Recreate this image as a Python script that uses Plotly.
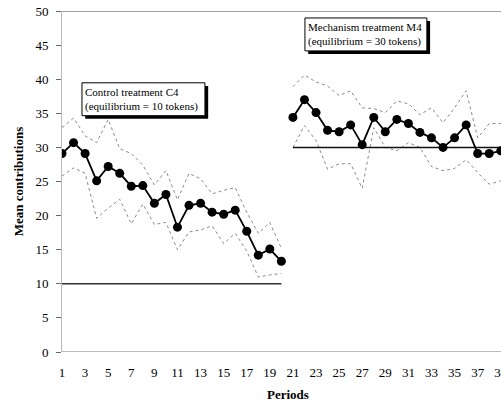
import plotly.graph_objects as go

# ---- data ----
periods_c = list(range(1, 21))
mean_c = [29.1, 30.7, 29.1, 25.1, 27.2, 26.2, 24.3, 24.4, 21.8, 23.1,
          18.3, 21.5, 21.8, 20.5, 20.2, 20.8, 17.7, 14.2, 15.1, 13.3]
upper_c = [32.9, 34.3, 31.7, 30.7, 34.1, 29.8, 29.1, 27.4, 24.5, 26.6,
           22.3, 26.2, 25.4, 23.2, 23.7, 24.1, 20.5, 17.4, 19.0, 15.2]
lower_c = [25.8, 27.0, 26.2, 19.6, 21.1, 22.4, 18.8, 21.7, 18.7, 19.0,
           15.0, 17.6, 17.9, 18.5, 15.9, 17.4, 14.8, 11.0, 11.3, 11.5]

periods_m = list(range(21, 40))
mean_m = [34.4, 37.0, 35.1, 32.5, 32.3, 33.3, 30.4, 34.4, 32.3, 34.1,
          33.5, 32.2, 31.4, 30.0, 31.4, 33.3, 29.1, 29.1, 29.5]
upper_m = [38.9, 40.6, 39.6, 39.0, 37.6, 38.3, 35.8, 35.7, 35.1, 36.8,
           36.4, 34.8, 35.8, 33.6, 35.8, 38.3, 31.4, 33.5, 33.5]
lower_m = [30.0, 33.2, 31.0, 26.8, 27.6, 27.6, 24.0, 32.9, 30.0, 29.5,
           30.7, 30.0, 27.2, 26.6, 26.9, 28.2, 26.3, 24.6, 25.1]

equil_c = 10
equil_m = 30
y_ticks = [0, 5, 10, 15, 20, 25, 30, 35, 40, 45, 50]
x_ticks = list(range(1, 40, 2))

label_c = "Control treatment C4<br>(equilibrium = 10 tokens)"
label_m = "Mechanism treatment M4<br>(equilibrium = 30 tokens)"

FONT = "Liberation Serif, Times New Roman, serif"

fig = go.Figure()

band_style = dict(color="#8a8a8a", width=1, dash="dot")
for xs, ys in [(periods_c, upper_c), (periods_c, lower_c),
               (periods_m, upper_m), (periods_m, lower_m)]:
    fig.add_trace(go.Scatter(x=xs, y=ys, mode="lines", line=band_style,
                             hoverinfo="skip", showlegend=False))

# equilibrium lines
fig.add_trace(go.Scatter(x=[periods_c[0], periods_c[-1]], y=[equil_c, equil_c],
                         mode="lines", line=dict(color="#333", width=1.5),
                         showlegend=False))
fig.add_trace(go.Scatter(x=[periods_m[0], periods_m[-1] + 1], y=[equil_m, equil_m],
                         mode="lines", line=dict(color="#111", width=1.5),
                         showlegend=False))

for xs, ys in [(periods_c, mean_c), (periods_m, mean_m)]:
    fig.add_trace(go.Scatter(x=xs, y=ys, mode="lines+markers",
                             line=dict(color="black", width=1.8),
                             marker=dict(color="black", size=9),
                             showlegend=False))

# top border line at 50
fig.add_shape(type="line", xref="paper", yref="y", x0=0, x1=1, y0=50, y1=50,
              line=dict(color="#444", width=1))

# label boxes with drop shadow (data coords)
def box(x0, x1, y0, y1, text):
    dx, dy = 0.28, 0.45
    fig.add_shape(type="rect", xref="x", yref="y", x0=x0 + dx, x1=x1 + dx,
                  y0=y0 - dy, y1=y1 - dy, fillcolor="black", line=dict(width=0),
                  layer="above")
    fig.add_shape(type="rect", xref="x", yref="y", x0=x0, x1=x1, y0=y0, y1=y1,
                  fillcolor="white", line=dict(color="black", width=1),
                  layer="above")
    fig.add_annotation(x=x0 + 0.12, y=(y0 + y1) / 2, xref="x", yref="y",
                       text=text, showarrow=False, xanchor="left",
                       yanchor="middle", align="left",
                       font=dict(family=FONT, size=11, color="black"))

box(2.73, 13.38, 34.65, 39.47, label_c)
box(22.04, 32.6, 44.15, 48.98, label_m)

W, H = 501, 406
L, T, B = 62, 11, 54
plot_w, plot_h = W - L, H - T - B

fig.add_annotation(text="<b>Periods</b>", showarrow=False,
                   xref="paper", yref="paper",
                   x=(288 - L) / plot_w, y=-43 / plot_h,
                   yanchor="middle", xanchor="center",
                   font=dict(family=FONT, size=13, color="black"))

fig.update_layout(
    width=W, height=H,
    margin=dict(l=L, r=0, t=T, b=B, autoexpand=False),
    paper_bgcolor="white", plot_bgcolor="white",
    font=dict(family=FONT, size=13, color="black"),
    xaxis=dict(range=[1, 39.02], tickmode="array", tickvals=x_ticks,
               ticks="", showgrid=False, zeroline=False, automargin=False,
               showline=False, ticklabelstandoff=11, ticklabeloverflow="allow",
               tickfont=dict(family=FONT, size=13)),
    yaxis=dict(range=[0, 50], tickmode="array", tickvals=y_ticks,
               ticks="outside", ticklen=5, tickcolor="#666", tickwidth=1,
               showgrid=False, zeroline=False, showline=True, automargin=False,
               linecolor="#bbb", linewidth=1, ticklabelstandoff=5,
               ticklabeloverflow="allow",
               tickfont=dict(family=FONT, size=13),
               title=dict(text="<b>Mean contributions</b>", standoff=8,
                          font=dict(family=FONT, size=13))),
)

# x axis baseline at 0
fig.add_shape(type="line", xref="paper", yref="y", x0=0, x1=1, y0=0, y1=0,
              line=dict(color="#777", width=1))

# remove the browser's default 8px body margin so the figure fills the window
fig.write_html("out.html",
               config={"displayModeBar": False},
               post_script="document.body.style.margin='0';"
                           "document.body.style.overflow='hidden';")
